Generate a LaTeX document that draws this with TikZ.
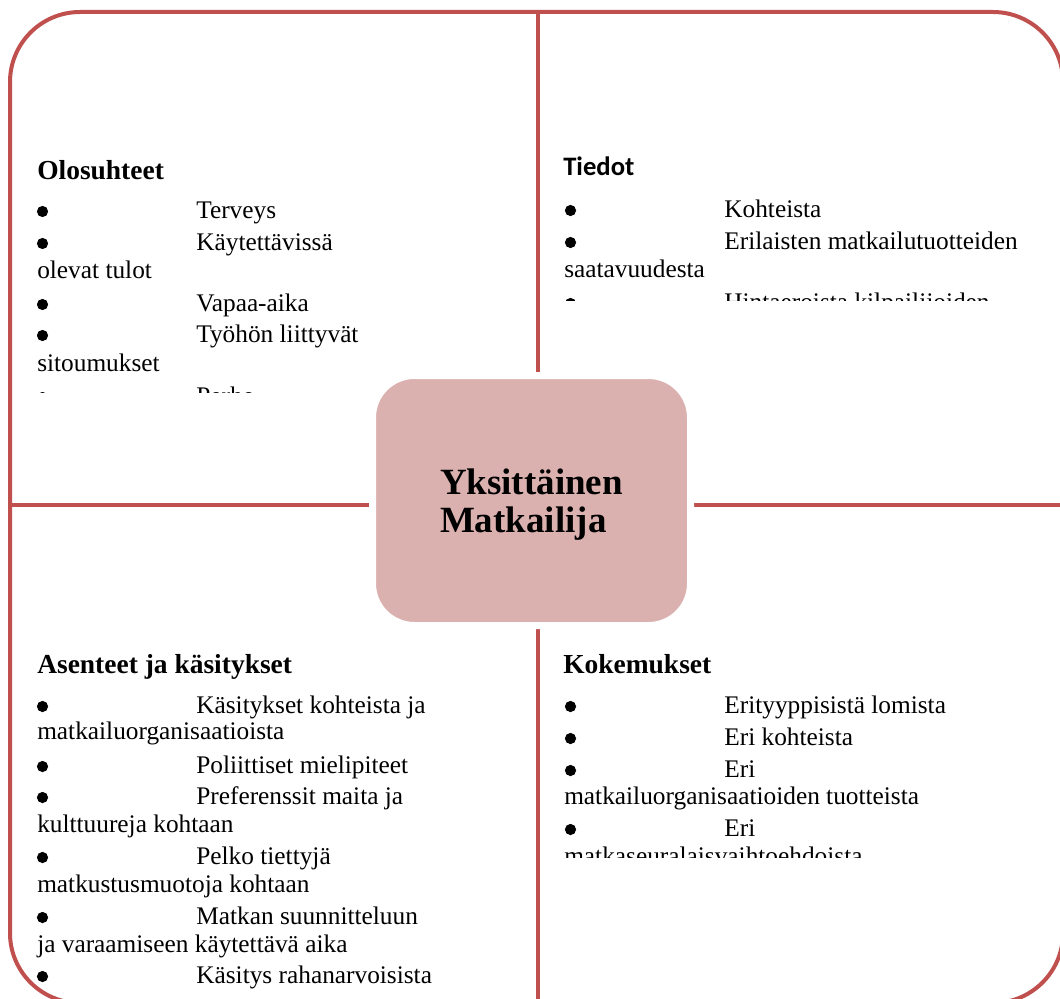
\documentclass[tikz,border=0pt]{standalone}
\usepackage{fontspec}
\setmainfont{Liberation Serif}
\newfontfamily\carlito{Carlito}
\definecolor{framered}{HTML}{C0504D}
\definecolor{boxpink}{RGB}{219,177,176}
\newcommand\bodyfont{\fontsize{19}{21}\selectfont}
\newcommand\headfont{\fontsize{20.6}{23}\selectfont\bfseries}
\newcommand\tabgap{\hspace*{119.3pt}}

\begin{document}
\begin{tikzpicture}[x=0.75pt,y=-0.75pt,
  frame/.style={draw=framered, line width=3pt},
  txt/.style={anchor=base west, inner sep=0pt, font=\bodyfont},
  head/.style={anchor=base west, inner sep=0pt, font=\headfont},
  centrebox/.style={fill=boxpink, draw=white, line width=5.25pt, rounded corners=31.5pt,
    minimum width=238.5pt, minimum height=187.5pt},
  centretext/.style={align=left, inner sep=0pt, font=\fontsize{27.75}{28.5}\selectfont\bfseries}]
\useasboundingbox (0,0) rectangle (1060,999);
% outer frame and dividers
\draw[frame, rounded corners=52.5pt] (10,12) rectangle (1063,1003);
\coordinate (top) at (538,12);
\coordinate (bottom) at (538,1003);
\coordinate (left) at (10,505);
\coordinate (right) at (1063,505);
\draw[frame] (top) -- (bottom);
\draw[frame] (left) -- (right);
\node[centrebox] (traveller) at (531.5,500.5) {};
\node[centretext] (travellername) at ([yshift=-3pt]traveller.center) {Yksittäinen\\Matkailija};
% top left
\begin{scope}
\clip (12,14) rectangle (536,392);
\node[head] (olo) at (37,179) {Olosuhteet};
\node[txt] (olo1) at (37,218) {\tabgap Terveys};
\node[txt] (olo2) at (37,250) {\tabgap Käytettävissä};
\node[txt] (olo2b) at (37,278) {olevat tulot};
\node[txt] (olo3) at (37,311) {\tabgap Vapaa-aika};
\node[txt] (olo4) at (37,342) {\tabgap Työhön liittyvät};
\node[txt] (olo4b) at (37,371) {sitoumukset};
\node[txt] (olo5) at (37,404) {\tabgap Perhe};
\fill (42.5,211.5) circle (5.6);
\fill (42.5,243.5) circle (5.6);
\fill (42.5,304.5) circle (5.6);
\fill (42.5,335.5) circle (5.6);
\fill (42.5,397.5) circle (5.6);
\end{scope}
% top right
\begin{scope}
\clip (540,14) rectangle (1060,300);
\node[head, font=\carlito\fontsize{20}{22}\selectfont\bfseries] (tie) at (563,175) {Tiedot};
\node[txt] (tie1) at (565,217) {\tabgap Kohteista};
\node[txt] (tie2) at (565,249) {\tabgap Erilaisten matkailutuotteiden};
\node[txt] (tie2b) at (564,277) {saatavuudesta};
\node[txt] (tie3) at (565,310) {\tabgap Hintaeroista kilpailijoiden};
\fill (570.5,210.5) circle (5.6);
\fill (570.5,242.5) circle (5.6);
\fill (570.5,303.5) circle (5.6);
\end{scope}
% bottom left
\node[head] (ase) at (37,673) {Asenteet ja käsitykset};
\node[txt] (ase1) at (37,713) {\tabgap Käsitykset kohteista ja};
\node[txt] (ase1b) at (37,739) {matkailuorganisaatioista};
\node[txt] (ase2) at (37,773) {\tabgap Poliittiset mielipiteet};
\node[txt] (ase3) at (37,804) {\tabgap Preferenssit maita ja};
\node[txt] (ase3b) at (37,832) {kulttuureja kohtaan};
\node[txt] (ase4) at (37,864) {\tabgap Pelko tiettyjä};
\node[txt] (ase4b) at (37,892) {matkustusmuotoja kohtaan};
\node[txt] (ase5) at (37,924) {\tabgap Matkan suunnitteluun};
\node[txt] (ase5b) at (37,952) {ja varaamiseen käytettävä aika};
\node[txt] (ase6) at (37,983) {\tabgap Käsitys rahanarvoisista};
\fill (42.5,706.5) circle (5.6);
\fill (42.5,766.5) circle (5.6);
\fill (42.5,797.5) circle (5.6);
\fill (42.5,857.5) circle (5.6);
\fill (42.5,917.5) circle (5.6);
\fill (42.5,976.5) circle (5.6);
% bottom right
\begin{scope}
\clip (540,630) rectangle (1060,857);
\node[head] (kok) at (563,673) {Kokemukset};
\node[txt] (kok1) at (565,713) {\tabgap Erityyppisistä lomista};
\node[txt] (kok2) at (565,745) {\tabgap Eri kohteista};
\node[txt] (kok3) at (565,777) {\tabgap Eri};
\node[txt] (kok3b) at (564,804) {matkailuorganisaatioiden tuotteista};
\node[txt] (kok4) at (565,836) {\tabgap Eri};
\node[txt] (kok4b) at (564,864) {matkaseuralaisvaihtoehdoista};
\fill (570.5,706.5) circle (5.6);
\fill (570.5,738.5) circle (5.6);
\fill (570.5,770.5) circle (5.6);
\fill (570.5,829.5) circle (5.6);
\end{scope}
\end{tikzpicture}
\end{document}
